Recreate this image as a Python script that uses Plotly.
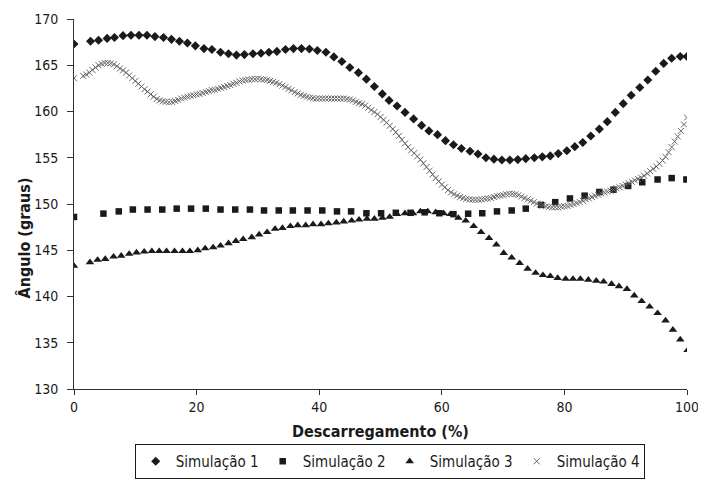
import plotly.graph_objects as go

# Simulação 1 (diamonds)
x1 = [0, 2.7, 4.0, 5.4, 6.6, 8.0, 9.3, 10.6, 11.9, 13.2, 14.6, 15.9, 17.2, 18.5, 19.8,
      21.2, 22.5, 23.9, 25.2, 26.5, 27.8, 29.2, 30.5, 31.8, 33.1, 34.5, 35.8, 37.1, 38.4,
      39.7, 41.1, 42.4, 43.7, 45.0, 46.4, 47.7, 49.0, 50.3, 51.4, 52.7, 54.0, 55.4, 56.7,
      57.9, 59.3, 60.6, 61.9, 63.2, 64.6, 65.9, 67.2, 68.5, 69.8, 71.1, 72.4, 73.7, 75.1,
      76.4, 77.7, 79.0, 80.4, 81.7, 83.0, 84.3, 85.7, 87.0, 88.3, 89.6, 90.9, 92.3, 93.6,
      94.9, 96.2, 97.5, 98.9, 100.0]
y1 = [167.3, 167.6, 167.7, 167.9, 168.0, 168.2, 168.25, 168.25, 168.25, 168.1, 168.0, 167.8,
      167.6, 167.4, 167.1, 166.8, 166.7, 166.4, 166.25, 166.1, 166.15, 166.25, 166.3, 166.4,
      166.5, 166.7, 166.8, 166.8, 166.75, 166.6, 166.4, 165.9, 165.4, 164.75, 164.2, 163.5,
      162.7, 161.9, 161.2, 160.6, 159.9, 159.2, 158.5, 157.9, 157.5, 156.85, 156.4, 156.0,
      155.7, 155.4, 155.0, 154.85, 154.75, 154.75, 154.8, 154.9, 155.0, 155.1, 155.2, 155.45,
      155.75, 156.2, 156.65, 157.35, 158.1, 158.9, 159.9, 160.85, 161.75, 162.6, 163.4,
      164.35, 165.2, 165.75, 165.95, 165.95]

# Simulação 2 (squares)
x2 = [0, 4.8, 7.3, 9.6, 12.0, 14.4, 16.75, 19.1, 21.5, 23.9, 26.3, 28.7, 31.0, 33.4, 35.7,
      38.1, 40.5, 42.9, 45.2, 47.7, 50.1, 52.5, 54.9, 57.2, 59.6, 61.9, 64.3, 66.6, 69.0,
      71.4, 73.7, 76.2, 78.5, 80.9, 83.3, 85.7, 88.0, 90.4, 92.7, 95.2, 97.5, 99.9]
y2 = [148.6, 148.96, 149.2, 149.4, 149.4, 149.4, 149.5, 149.5, 149.5, 149.4, 149.4, 149.4,
      149.3, 149.3, 149.3, 149.3, 149.3, 149.2, 149.2, 149.0, 149.0, 149.05, 149.05, 149.1,
      149.0, 148.9, 148.95, 149.0, 149.2, 149.3, 149.5, 149.9, 150.2, 150.6, 150.9, 151.3,
      151.55, 151.95, 152.35, 152.65, 152.8, 152.65]

# Simulação 3 (triangles)
x3 = [0, 2.6, 3.85, 5.1, 6.45, 7.7, 9.0, 10.2, 11.45, 12.7, 13.9, 15.1, 16.4, 17.7, 18.9,
      20.2, 21.4, 22.7, 23.9, 25.2, 26.4, 27.6, 29.0, 30.2, 31.5, 32.8, 34.0, 35.3, 36.5,
      37.8, 39.0, 40.3, 41.5, 42.8, 44.0, 45.3, 46.5, 47.8, 49.0, 50.3, 51.5, 52.7, 54.0,
      55.3, 56.5, 57.7, 59.0, 60.3, 61.4, 62.7, 63.9, 65.2, 66.4, 67.7, 68.9, 70.1, 71.4,
      72.7, 74.0, 75.3, 76.5, 77.7, 78.9, 80.2, 81.4, 82.6, 83.9, 85.2, 86.4, 87.7, 88.9,
      90.2, 91.4, 92.6, 93.9, 95.2, 96.5, 97.7, 98.9, 100.1]
y3 = [143.3, 143.7, 143.95, 144.05, 144.3, 144.4, 144.6, 144.75, 144.85, 144.9, 144.9, 144.9,
      144.9, 144.9, 144.9, 145.0, 145.2, 145.3, 145.5, 145.75, 146.0, 146.2, 146.4, 146.7,
      146.95, 147.3, 147.4, 147.6, 147.7, 147.7, 147.8, 147.8, 147.9, 148.0, 148.1, 148.2,
      148.3, 148.4, 148.4, 148.5, 148.6, 148.9, 149.0, 149.0, 149.2, 149.2, 149.1, 149.0,
      148.9, 148.5, 148.2, 147.6, 146.95, 146.3, 145.6, 144.7, 144.2, 143.6, 143.0, 142.55,
      142.3, 142.2, 142.0, 141.9, 141.9, 141.9, 141.8, 141.7, 141.6, 141.35, 141.1, 140.8,
      140.1, 139.5, 138.9, 138.2, 137.4, 136.4, 135.35, 134.2]

# Simulação 4 (crosses) – first sample at 0, then every 0.5 % from 1.5 to 100
x4 = [0] + [1.5 + 0.5 * i for i in range(198)]
y4 = [163.6,
      163.85, 164.0, 164.2, 164.5, 164.75, 165.0, 165.15, 165.25, 165.25, 165.2,
      165.1, 164.9, 164.65, 164.45, 164.2, 163.9, 163.6, 163.3, 163.0, 162.7,
      162.4, 162.15, 161.85, 161.6, 161.35, 161.2, 161.1, 161.05, 161.0, 161.05,
      161.15, 161.25, 161.4, 161.5, 161.6, 161.7, 161.75, 161.85, 161.9, 162.0,
      162.1, 162.2, 162.3, 162.35, 162.45, 162.55, 162.65, 162.75, 162.85, 163.0,
      163.1, 163.25, 163.35, 163.4, 163.45, 163.5, 163.5, 163.55, 163.5, 163.45,
      163.4, 163.3, 163.2, 163.1, 162.95, 162.8, 162.65, 162.45, 162.3, 162.1,
      161.95, 161.8, 161.7, 161.6, 161.5, 161.45, 161.4, 161.4, 161.4, 161.4,
      161.4, 161.4, 161.4, 161.4, 161.4, 161.4, 161.35, 161.3, 161.2, 161.05,
      160.9, 160.8, 160.65, 160.4, 160.15, 159.95, 159.7, 159.4, 159.1, 158.8,
      158.45, 158.1, 157.75, 157.35, 156.95, 156.55, 156.15, 155.8, 155.5, 155.15,
      154.8, 154.4, 154.0, 153.6, 153.2, 152.8, 152.45, 152.1, 151.8, 151.5,
      151.25, 151.05, 150.9, 150.75, 150.65, 150.55, 150.5, 150.45, 150.45, 150.45,
      150.5, 150.55, 150.6, 150.65, 150.75, 150.85, 150.9, 150.95, 151.05, 151.1,
      151.1, 151.05, 150.95, 150.8, 150.65, 150.5, 150.35, 150.2, 150.05, 149.95,
      149.85, 149.75, 149.7, 149.65, 149.65, 149.65, 149.7, 149.75, 149.8, 149.9,
      150.0, 150.1, 150.2, 150.35, 150.5, 150.6, 150.75, 150.9, 151.0, 151.15,
      151.25, 151.35, 151.45, 151.55, 151.7, 151.8, 151.95, 152.1, 152.25, 152.4,
      152.55, 152.7, 152.85, 153.05, 153.3, 153.55, 153.8, 154.05, 154.35, 154.7,
      155.1, 155.6, 156.15, 156.75, 157.3, 157.9, 158.6, 159.35]

names = ["Simulação 1", "Simulação 2", "Simulação 3", "Simulação 4"]
y_ticks = [130, 135, 140, 145, 150, 155, 160, 165, 170]
x_ticks = [0, 20, 40, 60, 80, 100]

FONT = "Liberation Sans Narrow, DejaVu Sans Condensed, Arial Narrow, sans-serif"
INK = "#1a1a1a"

fig = go.Figure()
fig.add_trace(go.Scatter(x=x1, y=y1, mode="markers", name=names[0],
                         marker=dict(symbol="diamond", size=7, color=INK)))
fig.add_trace(go.Scatter(x=x2, y=y2, mode="markers", name=names[1],
                         marker=dict(symbol="square", size=6.5, color=INK)))
fig.add_trace(go.Scatter(x=x3, y=y3, mode="markers", name=names[2],
                         marker=dict(symbol="triangle-up", size=7.5, color=INK)))
fig.add_trace(go.Scatter(x=x4, y=y4, mode="markers", name=names[3],
                         marker=dict(symbol="x-thin", size=6, color="#666666",
                                     line=dict(width=1, color="#666666"))))

fig.update_layout(
    width=690, height=482,
    margin=dict(l=66, r=11, t=11, b=98),
    paper_bgcolor="white", plot_bgcolor="white",
    font=dict(family=FONT, size=14, color=INK),
    showlegend=True,
    legend=dict(orientation="h", x=0.515, y=-0.196, xanchor="center", yanchor="middle",
                bordercolor=INK, borderwidth=1, font=dict(size=15),
                itemwidth=30, entrywidth=82, entrywidthmode="pixels",
                tracegroupgap=0, itemsizing="trace"),
    annotations=[dict(text="<b>Ângulo (graus)</b>", textangle=-90,
                      xref="paper", yref="paper", x=0, y=0.407,
                      xanchor="center", yanchor="middle", xshift=-50,
                      showarrow=False, font=dict(size=16, family=FONT, color=INK))],
)
fig.update_xaxes(range=[0, 100], tickvals=x_ticks, showgrid=False, zeroline=False,
                 automargin=False, ticklabeloverflow="allow",
                 showline=True, linecolor="#333", linewidth=1,
                 ticks="outside", ticklen=5, tickcolor="#333",
                 title=dict(text="<b>Descarregamento (%)</b>", standoff=12,
                            font=dict(size=16)))
fig.update_yaxes(range=[130, 170], tickvals=y_ticks, showgrid=False, zeroline=False,
                 automargin=False, ticklabeloverflow="allow", ticklabelstandoff=6,
                 showline=True, linecolor="#333", linewidth=1,
                 ticks="outside", ticklen=6, tickcolor="#333")

fig.write_html("out.html")
